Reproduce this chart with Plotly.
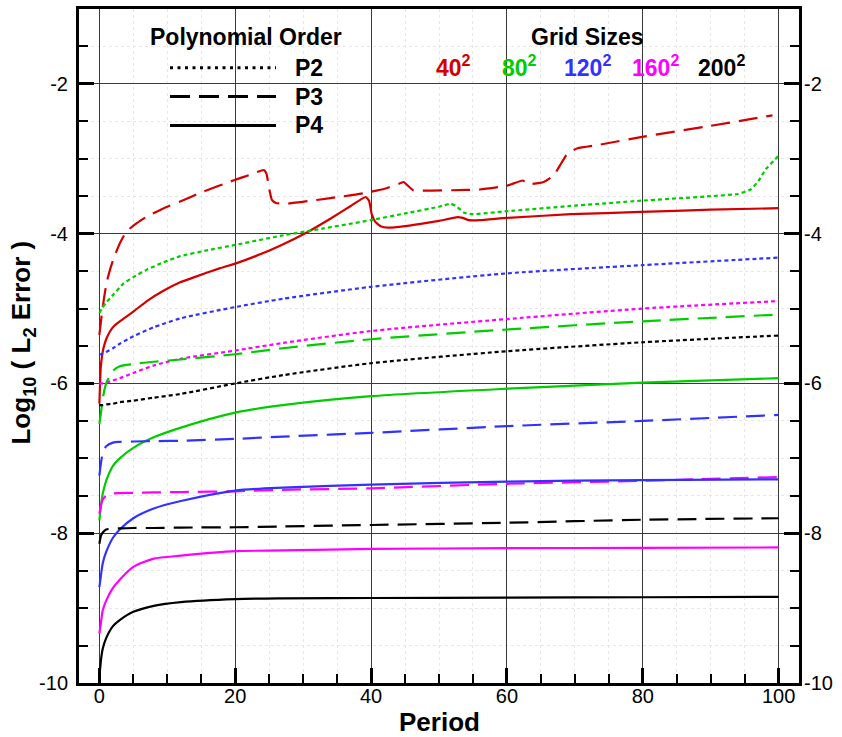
import plotly.graph_objects as go

# ---------------------------------------------------------------------------
# Data: log10 of the L2 error versus period, per grid size and polynomial order
# ---------------------------------------------------------------------------
X_SMOOTH = [0, 0.25, 0.5, 1, 2, 3, 5, 8, 12, 20, 27, 40, 60, 80, 100]

# P4 (solid)
y_200_p4 = [-9.92, -9.68, -9.54, -9.40, -9.24, -9.16, -9.05, -8.97, -8.92, -8.88, -8.87, -8.865, -8.86, -8.855, -8.85]
y_160_p4 = [-9.34, -9.18, -9.03, -8.90, -8.73, -8.62, -8.45, -8.34, -8.30, -8.24, -8.23, -8.21, -8.20, -8.195, -8.19]
y_120_p4 = [-8.72, -8.55, -8.40, -8.25, -8.06, -7.95, -7.80, -7.67, -7.57, -7.43, -7.39, -7.35, -7.31, -7.29, -7.28]
y_80_p4 = [-7.83, -7.62, -7.47, -7.30, -7.10, -7.00, -6.86, -6.72, -6.59, -6.39, -6.29, -6.17, -6.07, -5.99, -5.93]

# P3 (dashed)
y_200_p3 = [-8.14, -8.03, -7.99, -7.95, -7.94, -7.935, -7.93, -7.93, -7.925, -7.92, -7.91, -7.89, -7.86, -7.82, -7.80]
y_160_p3 = [-7.74, -7.62, -7.55, -7.50, -7.47, -7.465, -7.46, -7.455, -7.45, -7.44, -7.42, -7.40, -7.34, -7.30, -7.25]
y_120_p3 = [-7.23, -7.05, -6.93, -6.84, -6.79, -6.78, -6.775, -6.77, -6.765, -6.74, -6.71, -6.66, -6.57, -6.50, -6.42]
y_80_p3 = [-6.54, -6.38, -6.20, -6.00, -5.83, -5.77, -5.74, -5.71, -5.68, -5.61, -5.53, -5.41, -5.28, -5.17, -5.08]

# P2 (dotted)
y_200_p2 = [-6.29, -6.29, -6.29, -6.28, -6.27, -6.25, -6.23, -6.19, -6.14, -6.00, -5.89, -5.73, -5.57, -5.45, -5.36]
y_160_p2 = [-6.00, -6.00, -6.00, -5.99, -5.96, -5.93, -5.86, -5.76, -5.67, -5.56, -5.46, -5.30, -5.14, -5.00, -4.90]
y_120_p2 = [-5.61, -5.61, -5.60, -5.58, -5.53, -5.47, -5.37, -5.25, -5.13, -4.98, -4.87, -4.71, -4.53, -4.42, -4.32]

# 80^2 P2 has a kink near period 52 and a sharp rise at the end
x_80_p2 = [0, 0.5, 1, 2.1, 3.5, 5, 7, 9.5, 11.9, 16, 20, 26.6, 33, 39.9, 45, 50, 51.7, 52.5, 53.7,
           55, 60, 69.4, 79.7, 90, 94, 95.9, 97, 98.1, 100]
y_80_p2 = [-5.06, -4.98, -4.92, -4.81, -4.67, -4.58, -4.48, -4.38, -4.30, -4.22, -4.15, -4.03, -3.93, -3.82,
           -3.73, -3.64, -3.60, -3.63, -3.72, -3.74, -3.70, -3.63, -3.56, -3.50, -3.47, -3.41, -3.30, -3.14, -2.96]

# 40^2 P3
x_40_p3 = [0, 0.35, 0.7, 1.1, 1.6, 2.1, 3, 4, 5.5, 7, 9.5, 11.9, 15, 20, 22, 24.2, 24.6, 25, 25.4, 26,
           27.6, 32, 36, 38.9, 42, 44.2, 44.8, 45.3, 46.2, 52, 56, 60, 62.3, 62.7, 63.2, 65.4, 66.9,
           68, 68.9, 70.4, 73.8, 79.7, 90, 99.1]
y_40_p3 = [-5.35, -5.08, -4.85, -4.64, -4.47, -4.33, -4.13, -3.97, -3.86, -3.77, -3.66, -3.57, -3.45, -3.28,
           -3.22, -3.15, -3.20, -3.40, -3.55, -3.59, -3.60, -3.55, -3.50, -3.46, -3.40, -3.33, -3.31, -3.35,
           -3.42, -3.42, -3.41, -3.36, -3.29, -3.31, -3.34, -3.31, -3.22, -3.06, -2.93, -2.86, -2.81, -2.71,
           -2.56, -2.42]

# 40^2 P4
x_40_p4 = [0, 0.1, 0.2, 0.4, 0.6, 1, 1.6, 2.2, 3, 5, 7, 9.5, 11.9, 14, 17.8, 20, 23, 26.6, 30.6, 34, 37,
           39.2, 39.7, 40.1, 40.6, 41.4, 42.5, 45, 47.3, 50, 52.7, 53.5, 54.4, 56, 60, 69.4, 79.7, 90, 100]
y_40_p4 = [-6.27, -6.00, -5.79, -5.63, -5.53, -5.41, -5.30, -5.23, -5.17, -5.04, -4.90, -4.76, -4.65, -4.58,
           -4.46, -4.40, -4.30, -4.16, -3.98, -3.80, -3.63, -3.51, -3.56, -3.74, -3.84, -3.90, -3.92, -3.90,
           -3.87, -3.83, -3.78, -3.79, -3.82, -3.82, -3.79, -3.74, -3.71, -3.68, -3.66]

GRID_LABELS = ["40", "80", "120", "160", "200"]
GRID_COLORS = ["#d40000", "#00cc00", "#3232ff", "#ff00ff", "#000000"]
ORDER_LABELS = ["P2", "P3", "P4"]
X_TICKS = [0, 20, 40, 60, 80, 100]
Y_TICKS = [-10, -8, -6, -4, -2]

# ---------------------------------------------------------------------------
# Figure geometry (pixels)
# ---------------------------------------------------------------------------
W, H = 842, 737
PL, PR, PT, PB = 79, 799, 6, 683
FONT = "Liberation Sans, Arial, Helvetica, sans-serif"

DASH = {"P2": "4px,3px", "P3": "19px,9px", "P4": "solid"}
COLOR = dict(zip(GRID_LABELS, GRID_COLORS))


def fx(p):
    return (p - PL) / (PR - PL)


def fy(p):
    return (PB - p) / (PB - PT)


series = [
    ("40", "P3", x_40_p3, y_40_p3, 0.4),
    ("40", "P4", x_40_p4, y_40_p4, 0.4),
    ("80", "P2", x_80_p2, y_80_p2, 0.4),
    ("120", "P2", X_SMOOTH, y_120_p2, 0.7),
    ("160", "P2", X_SMOOTH, y_160_p2, 0.7),
    ("80", "P3", X_SMOOTH, y_80_p3, 0.7),
    ("200", "P2", X_SMOOTH, y_200_p2, 0.7),
    ("80", "P4", X_SMOOTH, y_80_p4, 0.7),
    ("120", "P3", X_SMOOTH, y_120_p3, 0.7),
    ("160", "P3", X_SMOOTH, y_160_p3, 0.7),
    ("120", "P4", X_SMOOTH, y_120_p4, 0.7),
    ("200", "P3", X_SMOOTH, y_200_p3, 0.7),
    ("160", "P4", X_SMOOTH, y_160_p4, 0.7),
    ("200", "P4", X_SMOOTH, y_200_p4, 0.7),
]

fig = go.Figure()
for i, (grid, order, xs, ys, smooth) in enumerate(series):
    fig.add_trace(go.Scatter(
        x=xs, y=ys, mode="lines",
        line=dict(color=COLOR[grid], width=2.2, dash=DASH[order], shape="spline", smoothing=smooth),
        name=f"{grid}^2 {order}", hoverinfo="skip", showlegend=False,
        yaxis="y2" if i == len(series) - 1 else "y",
    ))

common_y = dict(
    range=[-10, -1], tickmode="array", tickvals=Y_TICKS,
    ticktext=[str(v) for v in Y_TICKS],
    ticks="inside", ticklen=15, tickwidth=3, tickcolor="black",
    tickfont=dict(size=20, family=FONT, color="black"),
    zeroline=False,
)

fig.update_layout(
    width=W, height=H,
    margin=dict(l=PL, r=W - PR, t=PT, b=H - PB),
    paper_bgcolor="white", plot_bgcolor="white",
    showlegend=False,
    font=dict(family=FONT, color="black"),
    xaxis=dict(
        range=[-3, 103], tickmode="array", tickvals=X_TICKS,
        ticktext=[str(v) for v in X_TICKS],
        ticks="inside", ticklen=15, tickwidth=3, tickcolor="black",
        tickfont=dict(size=20, family=FONT, color="black"),
        showline=True, linewidth=3, linecolor="black", mirror=True,
        showgrid=True, gridcolor="#3a3a3a", gridwidth=1.2, zeroline=False,
        ticklabelstandoff=-7,
        minor=dict(tickmode="linear", tick0=0, dtick=5, ticks="inside",
                   ticklen=9, tickwidth=1.5, tickcolor="black",
                   showgrid=True, gridcolor="#e6e6e6", griddash="dot", gridwidth=1),
    ),
    yaxis=dict(
        **common_y,
        showline=True, linewidth=3, linecolor="black", mirror=True,
        showgrid=True, gridcolor="#3a3a3a", gridwidth=1.2,
        ticklabelstandoff=4,
        minor=dict(tickmode="linear", tick0=-10, dtick=0.5, ticks="inside",
                   ticklen=9, tickwidth=1.5, tickcolor="black",
                   showgrid=True, gridcolor="#e6e6e6", griddash="dot", gridwidth=1),
    ),
    yaxis2=dict(
        **common_y,
        overlaying="y", side="right", anchor="x", matches="y",
        showline=False, showgrid=False,
        ticklabelstandoff=4,
        minor=dict(tickmode="linear", tick0=-10, dtick=0.5, ticks="inside",
                   ticklen=9, tickwidth=1.5, tickcolor="black", showgrid=False),
    ),
)

# Axis titles
fig.add_annotation(text="<b>Period</b>", x=fx(439), y=fy(722), xref="paper", yref="paper",
                   xanchor="center", yanchor="middle", showarrow=False,
                   font=dict(size=26, family=FONT, color="black"))
fig.add_annotation(text="<b>Log<sub>10</sub> ( L<sub>2</sub> Error )</b>", x=fx(23), y=fy(341),
                   xref="paper", yref="paper", xanchor="center", yanchor="middle",
                   textangle=-90, showarrow=False,
                   font=dict(size=26, family=FONT, color="black"))

# Line-style key (polynomial order)
fig.add_annotation(text="<b>Polynomial Order</b>", x=fx(246), y=fy(34), xref="paper", yref="paper",
                   xanchor="center", yanchor="middle", showarrow=False,
                   font=dict(size=23, family=FONT, color="black"))
key_dash = {"P2": "3px,4.5px", "P3": "20px,9px", "P4": "solid"}
for order, ypx in zip(ORDER_LABELS, [65, 94, 123]):
    fig.add_shape(type="line", xref="paper", yref="paper",
                  x0=fx(170), x1=fx(276), y0=fy(ypx), y1=fy(ypx),
                  line=dict(color="black", width=3, dash=key_dash[order]))
    fig.add_annotation(text=f"<b>{order}</b>", x=fx(293), y=fy(ypx), xref="paper", yref="paper",
                       xanchor="left", yanchor="middle", showarrow=False,
                       font=dict(size=23, family=FONT, color="black"))

# Colour key (grid sizes)
fig.add_annotation(text="<b>Grid Sizes</b>", x=fx(587), y=fy(34), xref="paper", yref="paper",
                   xanchor="center", yanchor="middle", showarrow=False,
                   font=dict(size=23, family=FONT, color="black"))
for grid, xpx in zip(GRID_LABELS, [434, 500, 562, 630, 696]):
    fig.add_annotation(text=f"<b>{grid}<sup>2</sup></b>", x=fx(xpx), y=fy(63), xref="paper", yref="paper",
                       xanchor="left", yanchor="middle", showarrow=False,
                       font=dict(size=23, family=FONT, color=COLOR[grid]))

fig.write_html("out.html")
